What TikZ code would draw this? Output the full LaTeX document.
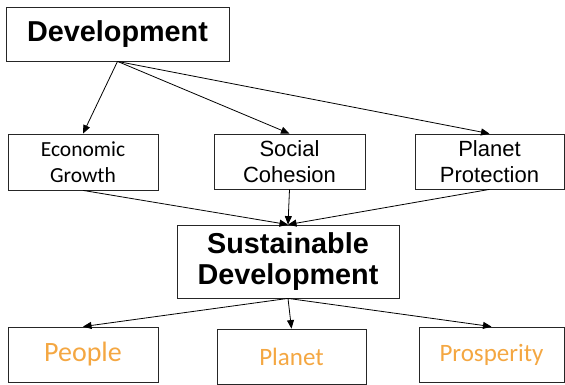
\documentclass[tikz,border=0pt]{standalone}
\usepackage{fontspec}
\setmainfont{Liberation Sans}
\newfontfamily\calib{Carlito}
\usetikzlibrary{arrows.meta, positioning}
\definecolor{pillar}{RGB}{244,167,66}

\begin{document}
\begin{tikzpicture}[x=1pt, y=-1pt,
        box/.style={draw=black!85, line width=0.8pt, inner sep=0pt, align=center},
        conn/.style={-{Triangle[length=8.5pt, width=7pt]}, line width=0.8pt}]
        \useasboundingbox (0,0) rectangle (565,385);
        % top
        \node[box, minimum width=223pt, minimum height=54pt, font=\fontsize{28.8}{31}\selectfont\bfseries] (dev) at (117.5,34) {Development};
        % middle row
        \node[box, minimum width=150pt, minimum height=56pt, font=\calib\fontsize{21.5}{26}\selectfont] (eco) at (83,162) {Economic\\Growth};
        \node[box, minimum width=151pt, minimum height=55pt, font=\fontsize{22}{26}\selectfont] (soc) at (289.5,161.5) {Social\\Cohesion};
        \node[box, minimum width=149pt, minimum height=55pt, font=\fontsize{22}{26}\selectfont] (prot) at (489.5,161.5) {Planet\\Protection};
        \node[box, minimum width=222pt, minimum height=73pt, font=\fontsize{28.8}{31}\selectfont\bfseries] (sus) at (288,261.5) {Sustainable\\Development};
        % bottom row
        \node[box, minimum width=150pt, minimum height=55pt, text=pillar, font=\calib\fontsize{28}{30}\selectfont] (peo) at (83,354.5) {People};
        \node[box, minimum width=149pt, minimum height=55pt, text=pillar, font=\calib\fontsize{25}{30}\selectfont] (pla) at (291.5,356.5) {Planet};
        \node[box, minimum width=145pt, minimum height=55pt, text=pillar, font=\calib\fontsize{25}{30}\selectfont] (pros) at (491.5,354.5) {Prosperity};

        \draw[conn] (dev.south) -- (eco.north);
        \draw[conn] (dev.south) -- (soc.north);
        \draw[conn] (dev.south) -- (prot.north);
        \draw[conn] (eco.south) -- (sus.north);
        \draw[conn] (soc.south) -- (sus.north);
        \draw[conn] (prot.south) -- (sus.north);
        \draw[conn] (sus.south) -- (peo.north);
        \draw[conn] (sus.south) -- (pla.north);
        \draw[conn] (sus.south) -- (pros.north);
    \end{tikzpicture}
\end{document}
